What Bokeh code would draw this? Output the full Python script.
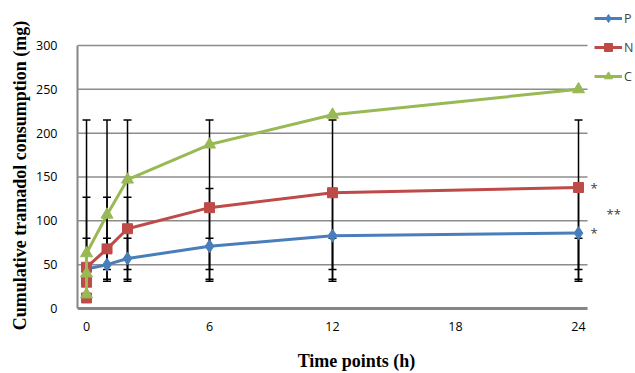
from bokeh.plotting import figure
from bokeh.models import Range1d, FixedTicker, Legend, LegendItem
from bokeh.core.properties import value
from bokeh.embed import file_html
from bokeh.resources import INLINE

# ---- data ----
hours_P = [0, 1, 2, 6, 12, 24]
P = [45, 50, 57, 71, 83, 86]
hours_N = [0, 0, 0, 1, 2, 6, 12, 24]
N = [12, 30, 47, 68, 91, 115, 132, 138]
hours_C = [0, 0, 0, 1, 2, 6, 12, 24]
C = [16, 40, 63, 107, 147, 187, 221, 250]

# error bar extents
err_x = [0, 1, 2, 6, 12, 24]
err_C_low = [44.5, 44.5, 44.5, 44.5, 44.5, 44.5]
err_C_high = [215, 215, 215, 215, 215, 215]
err_N_low = [31, 31, 31, 31, 31, 31]
err_N_high = [127, 127, 127, 137, 137, 137]
err_P_low = [33.5, 33.5, 33.5, 33.5, 33.5, 33.5]
err_P_high = [80, 80, 80, 80, 80, 80]

x_ticks = [0, 6, 12, 18, 24]
x_tick_labels = ["0", "6", "12", "18", "24"]
y_ticks = [0, 50, 100, 150, 200, 250, 300]

series_names = ["P", "N", "C"]
sig_y = [138, 108, 86]          # rows of significance marks at 24 h
sig_text = ["*", "**", "*"]

x_title = "Time points (h)"
y_title = "Cumulative tramadol consumption (mg)"

blue, red, green = "#4A7EBB", "#BE4B48", "#98B954"

x_lo, x_hi = -0.44, 24.44       # plotted x extent (gridlines, axis line)
x_view_hi = 26.78               # extra room on the right for marks
y_lo, y_hi = 0, 300             # plotted y extent
y_view_lo, y_view_hi = -47.91, 351.3   # room below for tick labels, above for legend

p = figure(frame_width=558, frame_height=350, output_backend="svg", toolbar_location=None,
           x_range=Range1d(x_lo, x_view_hi), y_range=Range1d(y_view_lo, y_view_hi),
           min_border_left=77, min_border_right=0, min_border_top=0,
           min_border_bottom=23)
p.outline_line_color = None
p.background_fill_color = "white"
p.border_fill_color = "white"

tick_font = "Open Sans"
# y axis (line limited to 0-300)
p.yaxis.ticker = FixedTicker(ticks=y_ticks)
p.yaxis.bounds = (y_lo, y_hi)
p.yaxis.major_tick_line_color = None
p.yaxis.minor_tick_line_color = None
p.yaxis.major_label_text_font = tick_font
p.yaxis.major_label_text_font_size = "12.5px"
p.yaxis.major_label_text_color = "#000000"
p.yaxis.axis_line_color = "#868686"
p.yaxis.axis_line_width = 2
p.yaxis.major_label_standoff = 14
p.yaxis.axis_label = y_title
p.yaxis.axis_label_standoff = 3

# x axis: only carries the title; its tick labels sit under the 0 line below
p.xaxis.ticker = FixedTicker(ticks=[])
p.xaxis.axis_line_color = None
p.xaxis.major_tick_line_color = None
p.xaxis.minor_tick_line_color = None
p.xaxis.major_label_standoff = 0
p.xaxis.axis_label = x_title
p.xaxis.axis_label_standoff = 0

for ax in (p.xaxis[0], p.yaxis[0]):
    ax.axis_label_text_font = "Liberation Serif"
    ax.axis_label_text_font_style = "bold"
    ax.axis_label_text_font_size = "18px"
    ax.axis_label_text_color = "#000000"

p.xgrid.grid_line_color = None
p.ygrid.grid_line_color = None

# horizontal gridlines and bottom axis line, limited to the plotted x extent
p.segment(x0=[x_lo] * (len(y_ticks) - 1), x1=[x_hi] * (len(y_ticks) - 1),
          y0=y_ticks[1:], y1=y_ticks[1:], line_color="#8C8C8C", line_width=1.5)
p.segment(x0=[x_lo], x1=[x_hi], y0=[y_ticks[0]], y1=[y_ticks[0]],
          line_color="#868686", line_width=3)

# x tick labels under the 0 line
p.text(x=x_ticks, y=[y_lo] * len(x_ticks), text=x_tick_labels, y_offset=18,
       text_font=value(tick_font), text_font_size="12.5px", text_color="#000000",
       text_align="center", text_baseline="middle")

# error bars (under the series)
for lo, hi in ((err_C_low, err_C_high), (err_N_low, err_N_high), (err_P_low, err_P_high)):
    p.segment(x0=err_x, y0=lo, x1=err_x, y1=hi, line_color="black", line_width=1.5)
    p.scatter(x=err_x, y=lo, marker="dash", size=8, line_color="black", line_width=1.5)
    p.scatter(x=err_x, y=hi, marker="dash", size=8, line_color="black", line_width=1.5)

# series
lP = p.line(hours_P, P, line_color=blue, line_width=3)
mP = p.scatter(hours_P, P, marker="diamond", size=13, fill_color=blue, line_color=blue)
lN = p.line(hours_N, N, line_color=red, line_width=3)
mN = p.scatter(hours_N, N, marker="square", size=10, fill_color=red, line_color=red)
lC = p.line(hours_C, C, line_color=green, line_width=3)
mC = p.scatter(hours_C, C, marker="triangle", size=12, fill_color=green, line_color=green)

# significance marks
p.text(x=[x_ticks[-1]] * 3, y=sig_y, text=sig_text, x_offset=[12, 28, 12],
       text_font=value("Open Sans"), text_font_size="13px", text_color="#404040",
       text_baseline="middle", text_align="left")

legend = Legend(items=[LegendItem(label=series_names[0], renderers=[lP, mP]),
                       LegendItem(label=series_names[1], renderers=[lN, mN]),
                       LegendItem(label=series_names[2], renderers=[lC, mC])],
                location=(517, 264), orientation="vertical",
                border_line_color=None, background_fill_alpha=0,
                padding=0, margin=0, spacing=9, glyph_height=20, glyph_width=28,
                label_standoff=2, label_text_font=tick_font,
                label_text_font_size="12.5px", label_height=20)
p.add_layout(legend, "center")

open("out.html", "w").write(file_html(p, INLINE))
